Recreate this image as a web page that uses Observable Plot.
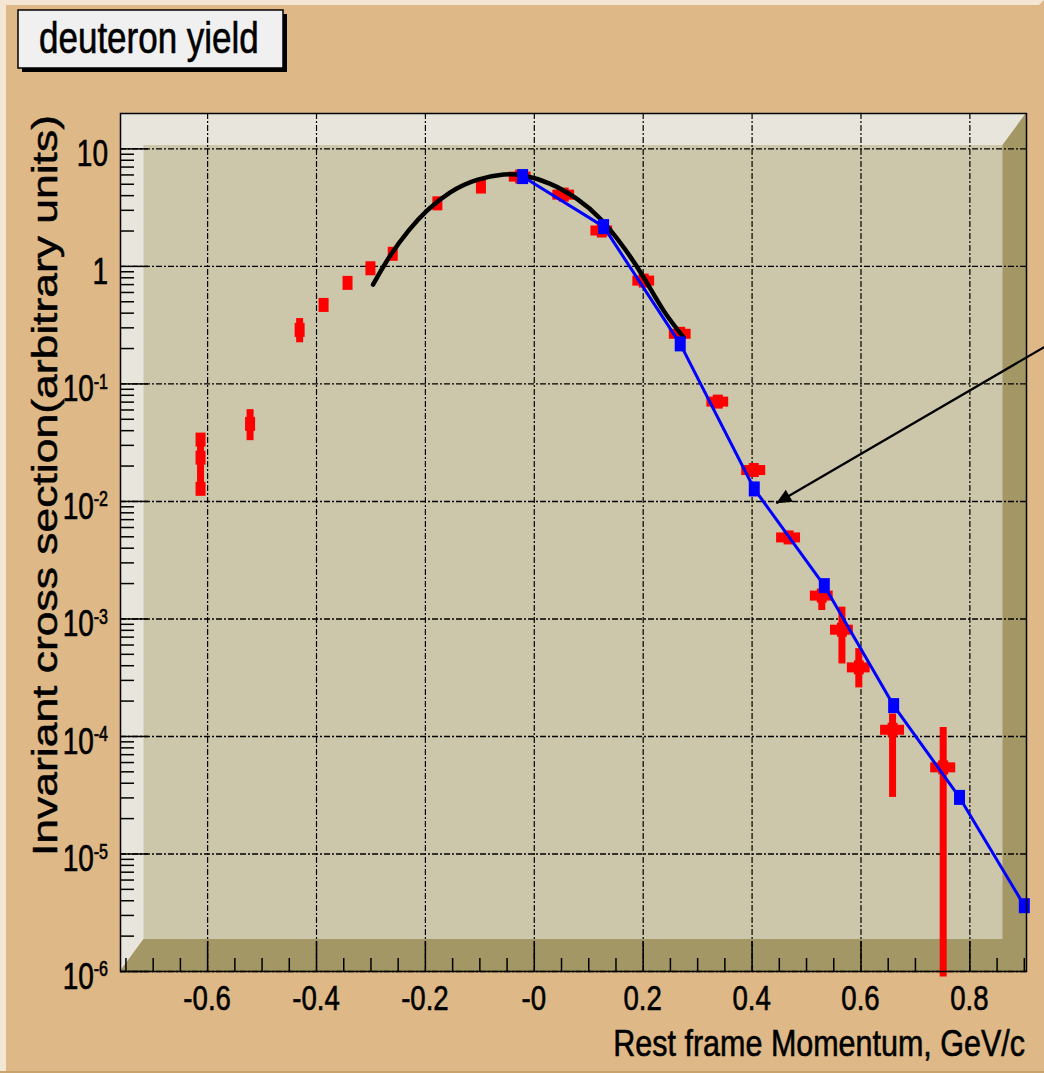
<!DOCTYPE html>
<html>
<head>
<meta charset="utf-8">
<script src="https://cdn.jsdelivr.net/npm/d3@7"></script>
<script src="https://cdn.jsdelivr.net/npm/@observablehq/plot@0.6"></script>
<style>
html, body { margin: 0; padding: 0; background: #deb887; }
#chart { width: 1044px; height: 1073px; overflow: hidden; }
</style>
</head>
<body>
<div id="chart"></div>
<script>
// ---------------- data ----------------
const redX    = [-0.613, -0.613, -0.613, -0.522, -0.431, -0.387, -0.343, -0.301, -0.260, -0.178, -0.098, -0.026, 0.054, 0.124, 0.201, 0.268, 0.337, 0.403, 0.467, 0.528, 0.565, 0.596, 0.658, 0.751];
const redY    = [0.0336, 0.0236, 0.0128, 0.0457, 0.288, 0.47, 0.724, 0.964, 1.28, 3.44, 4.78, 5.81, 4.08, 2.02, 0.757, 0.267, 0.0707, 0.0185, 0.00494, 0.00158, 0.00081, 0.000387, 0.000114, 5.46e-5];
const redYlo  = [0.0336, 0.0128, 0.0128, 0.0329, 0.224, 0.47, 0.66, 0.964, 1.28, 3.44, 4.78, 5.81, 4.08, 2.02, 0.757, 0.267, 0.0707, 0.0185, 0.00494, 0.00118, 0.000414, 0.000259, 3.03e-5, 9e-7];
const redYhi  = [0.0336, 0.0336, 0.0128, 0.0604, 0.36, 0.47, 0.80, 0.964, 1.28, 3.44, 4.78, 5.81, 4.08, 2.02, 0.757, 0.267, 0.0707, 0.0185, 0.00494, 0.00177, 0.00126, 0.000559, 0.000155, 1.19e-4];
const redXerr = [0, 0, 0, 0, 0, 0, 0, 0, 0, 0, 0, 0.02, 0.02, 0.02, 0.02, 0.02, 0.02, 0.022, 0.022, 0.021, 0.021, 0.021, 0.022, 0.023];

const blueX = [-0.0215, 0.1273, 0.268, 0.404, 0.5326, 0.66, 0.781, 0.900];
const blueY = [5.81, 2.18, 0.219, 0.01277, 0.00192, 0.000183, 3.03e-5, 3.63e-6];

const fitX = [-0.2962, -0.2645, -0.2309, -0.1971, -0.1543, -0.1052, -0.0564, -0.0197, 0.0294, 0.0784, 0.1212, 0.164, 0.2007, 0.2375, 0.2742];
const fitY = [0.700, 1.236, 2.017, 2.985, 4.27, 5.45, 6.04, 5.93, 5.04, 3.75, 2.54, 1.455, 0.808, 0.4205, 0.249];

const arrowX1 = [0.96], arrowY1 = [0.238], arrowX2 = [0.4445], arrowY2 = [0.00964];

const xMajor = [-0.6, -0.4, -0.2, 0, 0.2, 0.4, 0.6, 0.8];
const xTickLabels = ["-0.6", "-0.4", "-0.2", "-0", "0.2", "0.4", "0.6", "0.8"];
const xMinor = [-0.75, -0.7, -0.65, -0.55, -0.5, -0.45, -0.35, -0.3, -0.25, -0.15, -0.1, -0.05, 0.05, 0.1, 0.15, 0.25, 0.3, 0.35, 0.45, 0.5, 0.55, 0.65, 0.7, 0.75, 0.85, 0.9];
const yMajor = [1e-6, 1e-5, 1e-4, 1e-3, 1e-2, 1e-1, 1, 10];
const yTickLabels = ["10^-6", "10^-5", "10^-4", "10^-3", "10^-2", "10^-1", "1", "10"];
const yMinorMult = [2, 3, 4, 5, 6, 7, 8, 9];

const titleText = "deuteron yield";
const xTitle = "Rest frame Momentum, GeV/c";
const yTitle = "Invariant cross section(arbitrary units)";

// ---------------- layout ----------------
const W = 1044, H = 1073, ML = 120, MR = 18, MT = 113, MB = 102;
const FW = W - ML - MR, FH = H - MT - MB;
const xDomain = [-0.76, 0.904], yDomain = [1e-6, 20];
const FONT = "'Liberation Sans', Arial, Helvetica, sans-serif";

const yMinor = yMajor.flatMap(d => yMinorMult.map(k => d * k)).filter(v => v < 19.5);

const red = redX.map((x, i) => ({x, y: redY[i], lo: redYlo[i], hi: redYhi[i], xe: redXerr[i]}));
const blue = blueX.map((x, i) => ({x, y: blueY[i]}));
const fit = fitX.map((x, i) => ({x, y: fitY[i]}));
const arrow = arrowX1.map((x1, i) => ({x1, y1: arrowY1[i], x2: arrowX2[i], y2: arrowY2[i]}));

const rectSym = (w, h) => ({draw(ctx) {
  ctx.moveTo(-w / 2, -h / 2); ctx.lineTo(w / 2, -h / 2); ctx.lineTo(w / 2, h / 2); ctx.lineTo(-w / 2, h / 2); ctx.closePath();
}});

// arrow head direction in screen space (same mapping as the plot scales)
const xs = d3.scaleLinear(xDomain, [ML, W - MR]);
const ys = d3.scaleLog(yDomain, [H - MB, MT]);
const adx = xs(arrow[0].x2) - xs(arrow[0].x1), ady = ys(arrow[0].y2) - ys(arrow[0].y1);
const alen = Math.hypot(adx, ady), ux = adx / alen, uy = ady / alen;
const headSym = {draw(ctx) {
  const L = 15, w = 7, bx = -L * ux, by = -L * uy, px = -uy, py = ux;
  ctx.moveTo(0, 0); ctx.lineTo(bx + w * px, by + w * py); ctx.lineTo(bx - w * px, by - w * py); ctx.closePath();
}};

const gridStyle = {stroke: "#000", strokeOpacity: 1, strokeDasharray: "6,2,2,2"};

const plot = Plot.plot({
  width: W, height: H,
  marginLeft: ML, marginRight: MR, marginTop: MT, marginBottom: MB,
  style: {background: "transparent", fontFamily: FONT, color: "#000"},
  x: {domain: xDomain},
  y: {type: "log", domain: yDomain},
  marks: [
    Plot.gridY(yMajor, {...gridStyle, strokeWidth: 1.4}),
    Plot.gridX(xMajor, {...gridStyle, strokeWidth: 1.2}),
    Plot.tickX(xMajor, {x: d => d, insetTop: FH - 30, stroke: "#000", strokeWidth: 1.5}),
    Plot.tickX(xMinor, {x: d => d, insetTop: FH - 13, stroke: "#000", strokeWidth: 1.5}),
    Plot.tickY(yMajor, {y: d => d, insetRight: FW - 28, stroke: "#000", strokeWidth: 1.5}),
    Plot.tickY(yMinor, {y: d => d, insetRight: FW - 14, stroke: "#000", strokeWidth: 1.5}),
    Plot.ruleX(red.filter(d => d.hi > d.lo), {x: "x", y1: "lo", y2: "hi", stroke: "#ff0000", strokeWidth: 7}),
    Plot.ruleY(red.filter(d => d.xe > 0), {y: "y", x1: d => d.x - d.xe, x2: d => d.x + d.xe, stroke: "#ff0000", strokeWidth: 10}),
    Plot.dot(red, {x: "x", y: "y", symbol: rectSym(10, 14), fill: "#ff0000", stroke: "none"}),
    Plot.line(fit, {x: "x", y: "y", curve: "natural", stroke: "#000", strokeWidth: 4.5}),
    Plot.line(blue, {x: "x", y: "y", stroke: "#0000ff", strokeWidth: 3}),
    Plot.dot(blue, {x: "x", y: "y", symbol: rectSym(11, 15), fill: "#0000ff", stroke: "none"}),
    Plot.link(arrow, {x1: "x1", y1: "y1", x2: "x2", y2: "y2", stroke: "#000", strokeWidth: 2.2}),
    Plot.dot(arrow, {x: "x2", y: "y2", symbol: headSym, fill: "#000", stroke: "none"}),
    Plot.frame({stroke: "#000", strokeWidth: 1.5}),
    Plot.axisX(xMajor, {tickSize: 0, label: null, tickFormat: d => xTickLabels[xMajor.indexOf(d)]}),
    Plot.axisY(yMajor, {tickSize: 0, label: null, tickFormat: d => yTickLabels[yMajor.indexOf(d)]})
  ]
});

document.getElementById("chart").append(plot);

const svg = d3.select(plot);
const sx = plot.scale("x"), sy = plot.scale("y");

// ---- canvas + 3D frame background ----
const bg = svg.insert("g", ":first-child");
bg.append("polygon").attr("points", [[0, 0], [W, 0], [W - 5, 5], [6, 5], [6, H - 2], [0, H]].join(" ")).attr("fill", "#f3e6d2");
bg.append("rect").attr("x", 0).attr("y", H - 2).attr("width", W).attr("height", 2).attr("fill", "#c9a26c");
const bxs = 23.5, bys = 32;
bg.append("rect").attr("x", ML).attr("y", MT).attr("width", FW).attr("height", FH).attr("fill", "#ccc7ab");
bg.append("polygon").attr("points", [
  [ML, MT + FH], [ML, MT], [ML + FW, MT], [ML + FW - bxs, MT + bys], [ML + bxs, MT + bys], [ML + bxs, MT + FH - bys]
].join(" ")).attr("fill", "#e8e6dc");
bg.append("polygon").attr("points", [
  [ML, MT + FH], [ML + bxs, MT + FH - bys], [ML + FW - bxs, MT + FH - bys], [ML + FW - bxs, MT + bys], [ML + FW, MT], [ML + FW, MT + FH]
].join(" ")).attr("fill", "#a39766");

// ---- tick labels (Plot axis texts, restyled) ----
const lab = svg.append("g").attr("font-family", FONT).attr("fill", "#000")
  .attr("stroke", "#000").attr("stroke-width", 0.5);
svg.selectAll('g[aria-label="x-axis tick label"] text').each(function () {
  const s = this.textContent.trim();
  const v = xMajor[xTickLabels.indexOf(s)];
  ["x", "y", "dy", "dx", "transform"].forEach(a => this.removeAttribute(a));
  this.setAttribute("transform", `translate(${sx.apply(v)},1010) scale(1,1.26)`);
  this.setAttribute("text-anchor", "middle");
  this.setAttribute("font-size", "27.6");
  lab.node().appendChild(this);
});
svg.selectAll('g[aria-label="y-axis tick label"] text').each(function () {
  const s = this.textContent.trim();
  const v = yMajor[yTickLabels.indexOf(s)];
  ["x", "y", "dy", "dx", "transform"].forEach(a => this.removeAttribute(a));
  this.setAttribute("transform", `translate(108,${sy.apply(v) + 18}) scale(1,1.35)`);
  this.setAttribute("text-anchor", "end");
  this.setAttribute("font-size", "28");
  const parts = s.split("^");
  if (parts.length === 2) {
    const t = d3.select(this);
    t.text(null);
    t.append("tspan").text(parts[0]);
    t.append("tspan").attr("font-size", 16).attr("dy", -9.5).text(parts[1]);
  }
  lab.node().appendChild(this);
});

// ---- axis titles ----
lab.append("text").attr("transform", "translate(1025,1056) scale(1,1.2)").attr("text-anchor", "end")
  .attr("font-size", 30.5).text(xTitle);
lab.append("text").attr("transform", "translate(57,115) rotate(-90) scale(1.27,1)").attr("text-anchor", "end")
  .attr("font-size", 35).text(yTitle);

// ---- title box ----
const tb = svg.append("g").attr("font-family", FONT);
tb.append("rect").attr("x", 22).attr("y", 14).attr("width", 265).attr("height", 58).attr("fill", "#000");
tb.append("rect").attr("x", 18).attr("y", 10).attr("width", 265).attr("height", 58).attr("fill", "#f0f0f0").attr("stroke", "#000").attr("stroke-width", 1.5);
tb.append("text").attr("transform", "translate(39,53) scale(1,1.26)").attr("text-anchor", "start")
  .attr("font-size", 35).attr("fill", "#000").attr("stroke", "#000").attr("stroke-width", 0.5).text(titleText);
</script>
</body>
</html>
